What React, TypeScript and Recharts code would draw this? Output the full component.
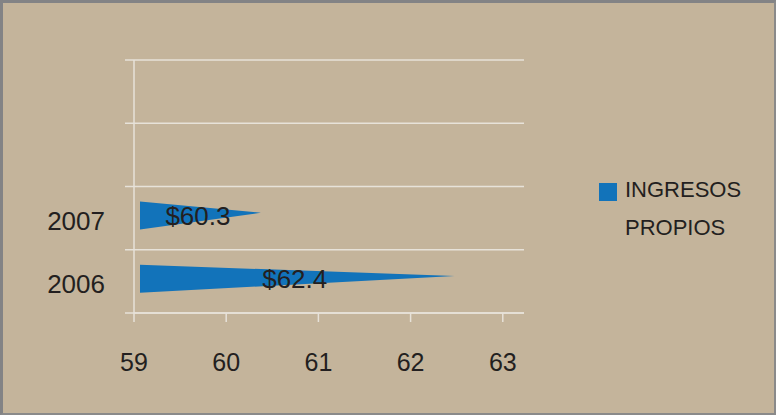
import React from 'react';
import { BarChart, Bar, XAxis, YAxis, CartesianGrid, LabelList } from 'recharts';

const categories = ['', '', '2007', '2006'];
const ingresos: (number | null)[] = [null, null, 60.3, 62.4];
const xTicks = [59, 60, 61, 62, 63];
const bandTicks = [0, 1, 2, 3, 4];
const seriesName = 'INGRESOS PROPIOS';

// band centre of each category on the 0..4 boundary axis
const data = categories.map((name, i) => ({ name, pos: i + 0.5, value: ingresos[i] }));

const FONT = '"Liberation Sans", Arial, Helvetica, sans-serif';
const BG = '#c4b49b';
const GRID = '#e7e2d9';
const BLUE = '#1273ba';
const TEXT = '#231f20';

// flat cone: full height at the base, point near the value
const Cone = (props: any) => {
  const { x, y, width, height, fill } = props;
  if (!width || width <= 0) return null;
  const top = y - 3;
  const x0 = x + 6;
  const tip = x + width + 7;
  const pts = `${x0},${top} ${tip},${top + height * 0.4} ${x0},${top + height}`;
  return <polygon points={pts} fill={fill} />;
};

const renderValue = (props: any) => {
  const vb = props.viewBox ?? props;
  if (props.value == null || !vb) return null;
  const { x, y, width, height } = vb;
  return (
    <text
      x={x + width / 2 + 4}
      y={y + height / 2 - 3}
      textAnchor="middle"
      dominantBaseline="central"
      fontSize={26}
      fontFamily={FONT}
      fill={TEXT}
    >
      {`$${props.value}`}
    </text>
  );
};

const NoLabel = () => <g />;

export default function App() {
  return (
    <div style={{ position: 'absolute', left: 0, top: 0, width: 776, height: 415, background: BG, fontFamily: FONT }}>
      <BarChart
        width={776}
        height={415}
        data={data}
        layout="vertical"
        margin={{ top: 60, right: 252, bottom: 42, left: 14 }}
        style={{ position: 'absolute', left: 0, top: 0 }}
      >
        <YAxis
          yAxisId="cat"
          type="category"
          dataKey="name"
          width={119}
          axisLine={false}
          tickLine={false}
          tickSize={0}
          tickMargin={28}
          interval={0}
          tick={{ fontSize: 26, fill: TEXT, fontFamily: FONT, dy: 2.5 }}
        />
        <YAxis
          yAxisId="band"
          type="number"
          dataKey="pos"
          domain={[0, 4]}
          allowDataOverflow
          ticks={bandTicks}
          interval={0}
          width={1}
          tick={NoLabel}
          tickSize={9}
          axisLine={{ stroke: GRID, strokeWidth: 1.5 }}
          tickLine={{ stroke: GRID, strokeWidth: 1.5 }}
        />
        <XAxis
          type="number"
          domain={[59, 63.23]}
          ticks={xTicks}
          interval={0}
          allowDataOverflow
          height={60}
          tickSize={9}
          tickMargin={31}
          axisLine={{ stroke: GRID, strokeWidth: 1.5 }}
          tickLine={{ stroke: GRID, strokeWidth: 1.5 }}
          tick={{ fontSize: 25, fill: TEXT, fontFamily: FONT }}
        />
        <CartesianGrid yAxisId="band" vertical={false} stroke={GRID} strokeWidth={1.5} />
        <Bar
          yAxisId="cat"
          dataKey="value"
          name={seriesName}
          fill={BLUE}
          barSize={28}
          shape={Cone}
          isAnimationActive={false}
        >
          <LabelList dataKey="value" content={renderValue} />
        </Bar>
      </BarChart>

      {/* legend */}
      <div style={{ position: 'absolute', left: 599, top: 183, width: 18, height: 18, background: BLUE }} />
      <div
        style={{
          position: 'absolute',
          left: 625,
          top: 171,
          width: 130,
          fontSize: 22,
          lineHeight: '38px',
          color: TEXT,
          fontFamily: FONT,
        }}
      >
        {seriesName}
      </div>

      <div
        style={{
          position: 'absolute',
          inset: 0,
          boxSizing: 'border-box',
          borderTop: '3px solid #838385',
          borderLeft: '3px solid #838385',
          borderRight: '2px solid #8a8a8a',
          borderBottom: '2px solid #8a8a8a',
          pointerEvents: 'none',
        }}
      />
    </div>
  );
}
